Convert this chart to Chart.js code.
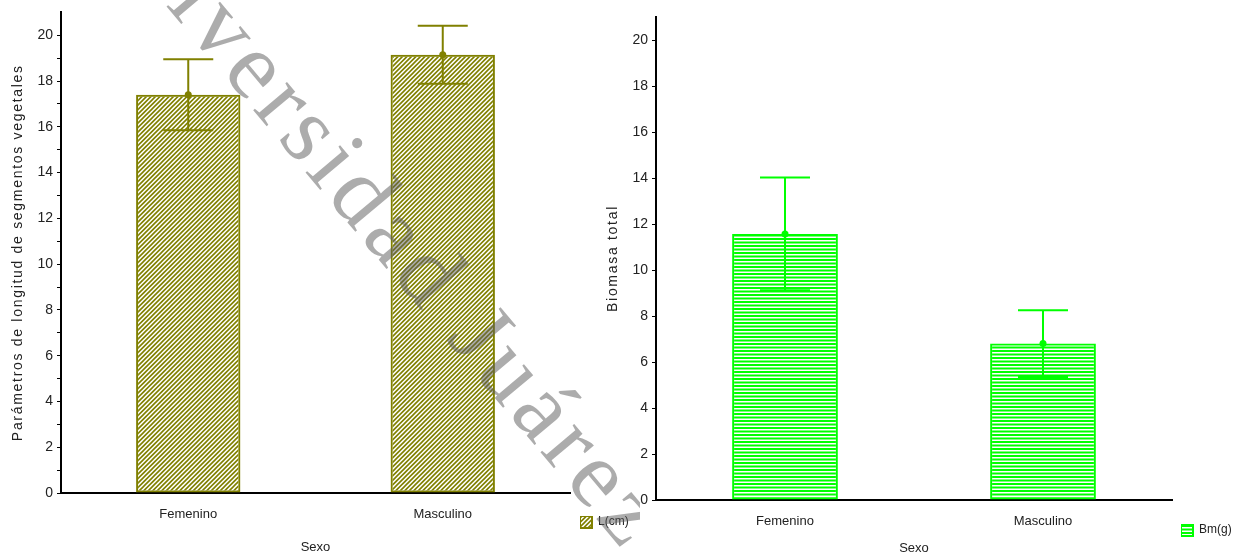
<!DOCTYPE html>
<html>
<head>
<meta charset="utf-8">
<script src="https://cdn.jsdelivr.net/npm/chart.js@4.4.1/dist/chart.umd.min.js"></script>
<style>
html,body{margin:0;padding:0;background:#fff;width:1240px;height:556px;overflow:hidden;position:relative}
#c1{position:absolute;left:0;top:0}
#c2{position:absolute;left:600px;top:0}
</style>
</head>
<body>
<canvas id="c1" width="640" height="556"></canvas>
<canvas id="c2" width="640" height="556"></canvas>
<script>
// ---- data ----
const categories = ['Femenino', 'Masculino'];
const lengthMeans = [17.4, 19.15];
const lengthErrors = [1.55, 1.27];
const biomassMeans = [11.57, 6.8];
const biomassErrors = [2.45, 1.45];
const majorTicks = [0, 2, 4, 6, 8, 10, 12, 14, 16, 18, 20];
const minorTicksLeft = [1, 3, 5, 7, 9, 11, 13, 15, 17, 19];
const leftLegend = 'L(cm)';
const rightLegend = 'Bm(g)';
const xTitle = 'Sexo';
const leftYTitle = 'Parámetros de longitud de segmentos vegetales';
const rightYTitle = 'Biomasa total';
const watermarkText = 'Universidad Juárez';

const FONT = '"Liberation Sans", Arial, sans-serif';
Chart.defaults.font.family = FONT;
Chart.defaults.color = '#222';

const OLIVE = '#808000';
const GREEN = '#00ff00';

function diagPattern(color) {
  const c = document.createElement('canvas');
  c.width = 9; c.height = 9;
  const g = c.getContext('2d');
  g.strokeStyle = color; g.lineWidth = 1.6;
  g.beginPath();
  for (let k = -3; k <= 3; k++) {
    const o = k * 4.5;
    g.moveTo(o - 1, 10); g.lineTo(o + 10, -1);
  }
  g.stroke();
  return g.createPattern(c, 'repeat');
}
function horizPattern(color) {
  const c = document.createElement('canvas');
  c.width = 4; c.height = 7;
  const g = c.getContext('2d');
  g.fillStyle = color;
  g.fillRect(0, 0, 4, 2);
  g.fillRect(0, 3.5, 4, 2);
  return g.createPattern(c, 'repeat');
}

const errorBars = {
  id: 'errorBars',
  afterDatasetsDraw(chart, args, opts) {
    const ctx = chart.ctx, y = chart.scales.y;
    const meta = chart.getDatasetMeta(0);
    const ds = chart.data.datasets[0];
    meta.data.forEach((bar, i) => {
      const m = ds.data[i], e = opts.errors[i];
      const x = bar.x;
      const yt = y.getPixelForValue(m + e), yb = y.getPixelForValue(m - e), ym = y.getPixelForValue(m);
      ctx.save();
      ctx.strokeStyle = opts.color; ctx.lineWidth = 2;
      ctx.beginPath();
      ctx.moveTo(x, yt); ctx.lineTo(x, yb);
      ctx.moveTo(x - opts.cap, yt); ctx.lineTo(x + opts.cap, yt);
      ctx.moveTo(x - opts.cap, yb); ctx.lineTo(x + opts.cap, yb);
      ctx.stroke();
      ctx.fillStyle = opts.color;
      ctx.beginPath(); ctx.arc(x, ym, 3.5, 0, Math.PI * 2); ctx.fill();
      ctx.restore();
    });
  }
};

const placeLegend = {
  id: 'placeLegend',
  afterInit(chart, args, opts) {
    const L = chart.legend;
    if (L && !L._fixed) {
      const of = L.fit.bind(L);
      L.fit = function () { of(); this.width = opts.width; };
      L._fixed = true;
    }
  },
  afterLayout(chart, args, opts) {
    const L = chart.legend;
    L.left = opts.left; L.right = opts.left + L.width;
    L.top = opts.top; L.bottom = opts.top + L.height;
  }
};

const spacedTitle = {
  id: 'spacedTitle',
  afterUpdate(chart, args, opts) {
    const s = chart.scales.y;
    if (s && !s._spaced) {
      const orig = s.drawTitle.bind(s);
      s.drawTitle = function () {
        const c = this.ctx; const prev = c.letterSpacing;
        c.letterSpacing = opts.spacing;
        orig();
        c.letterSpacing = prev || '0px';
      };
      s._spaced = true;
    }
  }
};

const watermark = {
  id: 'watermark',
  afterDraw(chart, args, opts) {
    const ctx = chart.ctx;
    ctx.save();
    ctx.translate(opts.x, opts.y);
    ctx.rotate(opts.angle * Math.PI / 180);
    ctx.font = opts.size + 'px "Liberation Serif", "Times New Roman", serif';
    ctx.letterSpacing = opts.spacing;
    ctx.fillStyle = 'rgba(90,90,90,0.5)';
    ctx.textBaseline = 'alphabetic';
    ctx.textAlign = 'left';
    ctx.fillText(watermarkText, 0, 0);
    ctx.letterSpacing = '0px';
    ctx.restore();
  }
};

function makeChart(canvas, cfg) {
  const allTicks = cfg.ticks;
  return new Chart(canvas, {
    type: 'bar',
    data: {
      labels: categories,
      datasets: [{
        label: cfg.label,
        data: cfg.means,
        backgroundColor: cfg.fill,
        borderColor: cfg.color,
        borderWidth: 2,
        borderSkipped: false,
        barPercentage: 0.41,
        categoryPercentage: 1
      }]
    },
    options: {
      responsive: false,
      animation: false,
      devicePixelRatio: 1,
      layout: { padding: { top: cfg.top, right: cfg.padRight, left: 0, bottom: 0 } },
      plugins: {
        tooltip: { enabled: false },
        legend: {
          display: true, position: 'right', align: 'start',
          labels: { boxWidth: 12, boxHeight: 12, padding: 0, font: { size: 12 }, color: '#222' }
        },
        errorBars: { errors: cfg.errors, color: cfg.color, cap: 25 },
        placeLegend: { width: 60, left: cfg.legLeft, top: cfg.legTop },
        spacedTitle: { spacing: '1.7px' },
        watermark: cfg.wm || {}
      },
      scales: {
        x: {
          grid: { display: false, drawTicks: false },
          border: { display: true, color: '#000', width: 2 },
          ticks: { padding: 14, font: { size: 13 }, color: '#222' },
          title: { display: true, text: xTitle, font: { size: 13 }, color: '#222', padding: { top: 0, bottom: cfg.xTitlePad } },
          afterFit(s) { s.height = cfg.xh; }
        },
        y: {
          min: 0, max: 21,
          afterBuildTicks(s) { s.ticks = allTicks.map(v => ({ value: v })); },
          grid: { display: true, drawOnChartArea: false, drawTicks: true, tickLength: 4, color: '#000', lineWidth: 1 },
          border: { display: true, color: '#000', width: 2 },
          ticks: {
            padding: 4, font: { size: 14 }, color: '#222', autoSkip: false,
            callback: v => majorTicks.includes(v) ? String(v) : ''
          },
          title: { display: true, text: cfg.ytitle, font: { size: 14 }, color: '#222', padding: { top: cfg.yTitlePad, bottom: 0 } },
          afterFit(s) { s.width = cfg.yw; }
        }
      }
    },
    plugins: cfg.wm ? [errorBars, placeLegend, spacedTitle, watermark] : [errorBars, placeLegend, spacedTitle]
  });
}

makeChart(document.getElementById('c1'), {
  label: leftLegend, means: lengthMeans, errors: lengthErrors,
  fill: diagPattern(OLIVE), color: OLIVE,
  ticks: majorTicks.concat(minorTicksLeft).sort((a, b) => a - b),
  ytitle: leftYTitle, top: 11, padRight: 10, yw: 61, xh: 63,
  legLeft: 580, legTop: 516, xTitlePad: 1, yTitlePad: 10,
  wm: { x: 82, y: -94, angle: 50, size: 96, spacing: '6px' }
});

makeChart(document.getElementById('c2'), {
  label: rightLegend, means: biomassMeans, errors: biomassErrors,
  fill: horizPattern(GREEN), color: GREEN,
  ticks: majorTicks,
  ytitle: rightYTitle, top: 17, padRight: 8, yw: 56, xh: 56,
  legLeft: 581, legTop: 524, xTitlePad: 0, yTitlePad: 4.6
});
</script>
</body>
</html>
